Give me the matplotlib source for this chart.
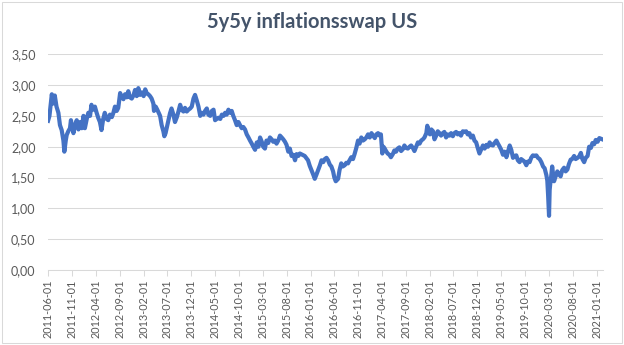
import numpy as np
import pandas as pd
import matplotlib
matplotlib.use("Agg")
import matplotlib.pyplot as plt
import matplotlib.dates as mdates
from matplotlib.ticker import FuncFormatter

plt.rcParams['font.family'] = ['Lato', 'DejaVu Sans']

# 5y5y inflation swap
dates = [
    "2011-06-01", "2011-06-10", "2011-06-25", "2011-07-04", "2011-07-14", "2011-07-25",
    "2011-08-06", "2011-08-16", "2011-08-27", "2011-09-07", "2011-09-13", "2011-09-22",
    "2011-09-28", "2011-10-08", "2011-10-19", "2011-10-25", "2011-11-10", "2011-11-20",
    "2011-12-01", "2011-12-12", "2011-12-22", "2012-01-02", "2012-01-13", "2012-01-22",
    "2012-02-03", "2012-02-13", "2012-02-24", "2012-03-04", "2012-03-15", "2012-03-26",
    "2012-04-06", "2012-04-16", "2012-04-27", "2012-05-07", "2012-05-18", "2012-05-28",
    "2012-06-09", "2012-06-19", "2012-06-30", "2012-07-12", "2012-07-22", "2012-08-01",
    "2012-08-12", "2012-08-22", "2012-09-03", "2012-09-13", "2012-09-24", "2012-10-04",
    "2012-10-15", "2012-10-25", "2012-11-05", "2012-11-16", "2012-11-27", "2012-12-07",
    "2012-12-18", "2012-12-28", "2013-01-08", "2013-01-19", "2013-01-31", "2013-02-10",
    "2013-02-21", "2013-03-02", "2013-03-13", "2013-03-23", "2013-04-03", "2013-04-07",
    "2013-04-18", "2013-04-28", "2013-05-16", "2013-05-26", "2013-06-06", "2013-06-12",
    "2013-06-20", "2013-06-27", "2013-07-07", "2013-07-18", "2013-07-28", "2013-08-09",
    "2013-08-19", "2013-08-31", "2013-09-10", "2013-09-21", "2013-10-01", "2013-10-12",
    "2013-10-22", "2013-11-02", "2013-11-13", "2013-11-24", "2013-12-04", "2013-12-15",
    "2013-12-25", "2014-01-05", "2014-01-16", "2014-01-27", "2014-02-06", "2014-02-17",
    "2014-02-27", "2014-03-10", "2014-03-20", "2014-04-01", "2014-04-11", "2014-04-22",
    "2014-05-02", "2014-05-13", "2014-05-23", "2014-06-04", "2014-06-14", "2014-06-25",
    "2014-07-05", "2014-07-15", "2014-07-26", "2014-08-05", "2014-08-16", "2014-08-26",
    "2014-09-06", "2014-09-17", "2014-09-28", "2014-10-08", "2014-10-19", "2014-10-29",
    "2014-11-09", "2014-11-20", "2014-12-01", "2014-12-11", "2014-12-22", "2015-01-01",
    "2015-01-12", "2015-01-23", "2015-02-03", "2015-02-13", "2015-02-24", "2015-03-05",
    "2015-03-16", "2015-03-26", "2015-04-06", "2015-04-17", "2015-04-28", "2015-05-08",
    "2015-05-19", "2015-05-29", "2015-06-09", "2015-06-20", "2015-07-01", "2015-07-11",
    "2015-07-22", "2015-08-01", "2015-08-12", "2015-08-22", "2015-09-02", "2015-09-13",
    "2015-09-24", "2015-10-04", "2015-10-15", "2015-10-25", "2015-11-25", "2015-12-16",
    "2015-12-27", "2016-01-07", "2016-01-18", "2016-01-28", "2016-02-08", "2016-02-18",
    "2016-03-01", "2016-03-11", "2016-03-22", "2016-04-01", "2016-04-12", "2016-04-22",
    "2016-05-03", "2016-05-13", "2016-05-24", "2016-06-01", "2016-06-10", "2016-06-25",
    "2016-07-04", "2016-07-15", "2016-07-25", "2016-08-06", "2016-08-16", "2016-08-27",
    "2016-09-06", "2016-09-17", "2016-09-28", "2016-10-08", "2016-10-19", "2016-10-30",
    "2016-11-09", "2016-11-20", "2016-12-01", "2016-12-12", "2016-12-22", "2017-01-02",
    "2017-01-13", "2017-01-24", "2017-02-03", "2017-02-14", "2017-02-24", "2017-03-07",
    "2017-03-17", "2017-03-25", "2017-04-03", "2017-04-10", "2017-04-16", "2017-04-27",
    "2017-05-07", "2017-05-18", "2017-05-28", "2017-06-09", "2017-06-19", "2017-06-30",
    "2017-07-10", "2017-07-21", "2017-08-01", "2017-08-12", "2017-08-22", "2017-09-02",
    "2017-09-13", "2017-09-24", "2017-10-04", "2017-10-15", "2017-10-25", "2017-11-05",
    "2017-11-16", "2017-11-27", "2017-12-07", "2017-12-18", "2017-12-28", "2018-01-09",
    "2018-01-15", "2018-01-24", "2018-02-01", "2018-02-10", "2018-02-21", "2018-03-02",
    "2018-03-13", "2018-03-23", "2018-04-03", "2018-04-13", "2018-04-24", "2018-05-04",
    "2018-05-15", "2018-05-25", "2018-06-06", "2018-06-16", "2018-06-27", "2018-07-07",
    "2018-07-18", "2018-07-28", "2018-08-08", "2018-08-18", "2018-08-30", "2018-09-09",
    "2018-09-20", "2018-09-30", "2018-10-11", "2018-10-21", "2018-11-02", "2018-11-12",
    "2018-11-23", "2018-12-03", "2018-12-14", "2018-12-24", "2019-01-05", "2019-01-16",
    "2019-01-27", "2019-02-06", "2019-02-17", "2019-02-27", "2019-03-10", "2019-03-20",
    "2019-04-01", "2019-04-11", "2019-04-22", "2019-05-02", "2019-05-13", "2019-05-23",
    "2019-06-04", "2019-06-14", "2019-06-25", "2019-07-05", "2019-07-16", "2019-07-26",
    "2019-08-06", "2019-08-16", "2019-08-27", "2019-09-06", "2019-09-17", "2019-09-27",
    "2019-10-09", "2019-10-19", "2019-10-30", "2019-11-09", "2019-11-20", "2019-12-01",
    "2019-12-12", "2019-12-22", "2020-01-02", "2020-01-13", "2020-01-24", "2020-02-03",
    "2020-02-14", "2020-02-20", "2020-02-25", "2020-03-02", "2020-03-06", "2020-03-09",
    "2020-03-17", "2020-03-22", "2020-03-28", "2020-04-03", "2020-04-13", "2020-04-24",
    "2020-05-04", "2020-05-15", "2020-05-25", "2020-06-06", "2020-06-16", "2020-06-27",
    "2020-07-07", "2020-07-18", "2020-07-28", "2020-08-09", "2020-08-19", "2020-08-31",
    "2020-09-10", "2020-09-21", "2020-10-01", "2020-10-12", "2020-10-22", "2020-11-03",
    "2020-11-13", "2020-11-24", "2020-12-04", "2020-12-15", "2020-12-25", "2021-01-06",
    "2021-01-17", "2021-02-05",
]
values = [
    2.42, 2.50, 2.85, 2.70, 2.83, 2.65,
    2.55, 2.35, 2.27, 2.10, 1.92, 2.10,
    2.19, 2.25, 2.30, 2.43, 2.22, 2.35,
    2.43, 2.28, 2.40, 2.30, 2.50, 2.30,
    2.45, 2.55, 2.50, 2.68, 2.60, 2.65,
    2.55, 2.47, 2.40, 2.27, 2.45, 2.55,
    2.45, 2.43, 2.52, 2.48, 2.55, 2.65,
    2.58, 2.63, 2.87, 2.80, 2.77, 2.85,
    2.80, 2.90, 2.80, 2.78, 2.83, 2.92,
    2.82, 2.95, 2.84, 2.88, 2.82, 2.93,
    2.86, 2.85, 2.82, 2.78, 2.70, 2.58,
    2.65, 2.60, 2.50, 2.35, 2.25, 2.17,
    2.22, 2.30, 2.42, 2.54, 2.62, 2.52,
    2.40, 2.48, 2.57, 2.68, 2.60, 2.57,
    2.63, 2.57, 2.60, 2.62, 2.65, 2.78,
    2.84, 2.75, 2.65, 2.50, 2.55, 2.52,
    2.58, 2.62, 2.52, 2.50, 2.58, 2.60,
    2.43, 2.45, 2.47, 2.45, 2.52, 2.50,
    2.55, 2.52, 2.60, 2.55, 2.58, 2.50,
    2.43, 2.35, 2.40, 2.35, 2.30, 2.32,
    2.28, 2.20, 2.15, 2.10, 2.05, 2.00,
    1.95, 2.07, 2.00, 2.15, 2.08, 2.00,
    1.97, 2.10, 2.06, 2.15, 2.12, 2.08,
    2.10, 2.05, 2.10, 2.18, 2.15, 2.12,
    2.08, 2.03, 1.92, 1.97, 1.85, 1.87,
    1.78, 1.88, 1.85, 1.89, 1.85, 1.78,
    1.69, 1.62, 1.55, 1.48, 1.55, 1.62,
    1.70, 1.78, 1.75, 1.80, 1.82, 1.78,
    1.71, 1.68, 1.60, 1.50, 1.44, 1.48,
    1.62, 1.73, 1.68, 1.70, 1.74, 1.73,
    1.78, 1.83, 1.80, 1.88, 1.98, 2.10,
    2.05, 2.15, 2.10, 2.12, 2.15, 2.20,
    2.15, 2.22, 2.18, 2.14, 2.20, 2.22,
    2.18, 2.20, 1.89, 2.00, 1.98, 1.93,
    1.89, 1.87, 1.83, 1.88, 1.94, 1.92,
    1.97, 1.99, 1.93, 1.96, 2.02, 1.98,
    1.97, 2.00, 2.02, 1.98, 1.93, 2.00,
    2.07, 2.05, 2.10, 2.12, 2.15, 2.22,
    2.34, 2.25, 2.20, 2.28, 2.25, 2.12,
    2.18, 2.25, 2.22, 2.18, 2.22, 2.24,
    2.15, 2.20, 2.18, 2.22, 2.17, 2.22,
    2.24, 2.20, 2.22, 2.18, 2.25, 2.24,
    2.25, 2.20, 2.22, 2.15, 2.18, 2.10,
    2.07, 1.98, 1.89, 1.95, 2.02, 1.97,
    2.03, 2.00, 2.07, 2.03, 2.02, 2.06,
    2.10, 2.05, 2.00, 1.95, 1.87, 1.92,
    1.83, 1.92, 2.02, 1.95, 1.82, 1.85,
    1.86, 1.78, 1.75, 1.80, 1.78, 1.76,
    1.70, 1.76, 1.75, 1.82, 1.86, 1.85,
    1.86, 1.82, 1.80, 1.75, 1.68, 1.65,
    1.54, 1.45, 1.22, 0.88, 1.30, 1.38,
    1.55, 1.68, 1.55, 1.44, 1.52, 1.60,
    1.55, 1.52, 1.62, 1.66, 1.60, 1.63,
    1.72, 1.79, 1.80, 1.85, 1.80, 1.82,
    1.84, 1.90, 1.80, 1.75, 1.82, 1.85,
    2.00, 1.98, 2.06, 2.04, 2.11, 2.08,
    2.14, 2.12,
]

title = "5y5y inflationsswap US"
tick_dates = pd.date_range("2011-06-01", "2021-01-01", freq="5MS")

x = pd.to_datetime(dates)
y = np.array(values)

fig = plt.figure(figsize=(6.24, 3.45), dpi=100)
ax = fig.add_axes([0.077, 0.217, 0.889, 0.626])

ax.plot(x, y, color="#4472C4", linewidth=3.0, solid_joinstyle="round")

ax.set_ylim(0, 3.5)
ax.set_yticks(np.arange(0, 3.51, 0.5))
ax.yaxis.set_major_formatter(FuncFormatter(lambda v, p: f"{v:.2f}".replace(".", ",")))
ax.set_xlim(pd.Timestamp("2011-06-01"), pd.Timestamp("2021-02-08"))
ax.set_xticks(tick_dates)
ax.xaxis.set_major_formatter(mdates.DateFormatter("%Y-%m-%d"))
ax.tick_params(axis="x", rotation=90, labelsize=7.8, colors="#595959", length=4, width=0.75, pad=3)
ax.tick_params(axis="x", color="#d9d9d9")
ax.tick_params(axis="y", labelsize=9, colors="#595959", length=0, pad=9)

ax.grid(axis="y", color="#d9d9d9", linewidth=0.75)
ax.set_axisbelow(True)
for side in ["top", "right", "left"]:
    ax.spines[side].set_visible(False)
ax.spines["bottom"].set_color("#d9d9d9")
ax.spines["bottom"].set_linewidth(0.75)

fig.text(0.5, 0.935, title, ha="center", va="center", fontsize=14.5, fontweight="bold", color="#44546A")

# chart area border
fig.patches.append(plt.Rectangle((0.003, 0.005), 0.994, 0.99, transform=fig.transFigure,
                                 fill=False, edgecolor="#d9d9d9", linewidth=0.75))

plt.savefig("out.png", dpi=100)
